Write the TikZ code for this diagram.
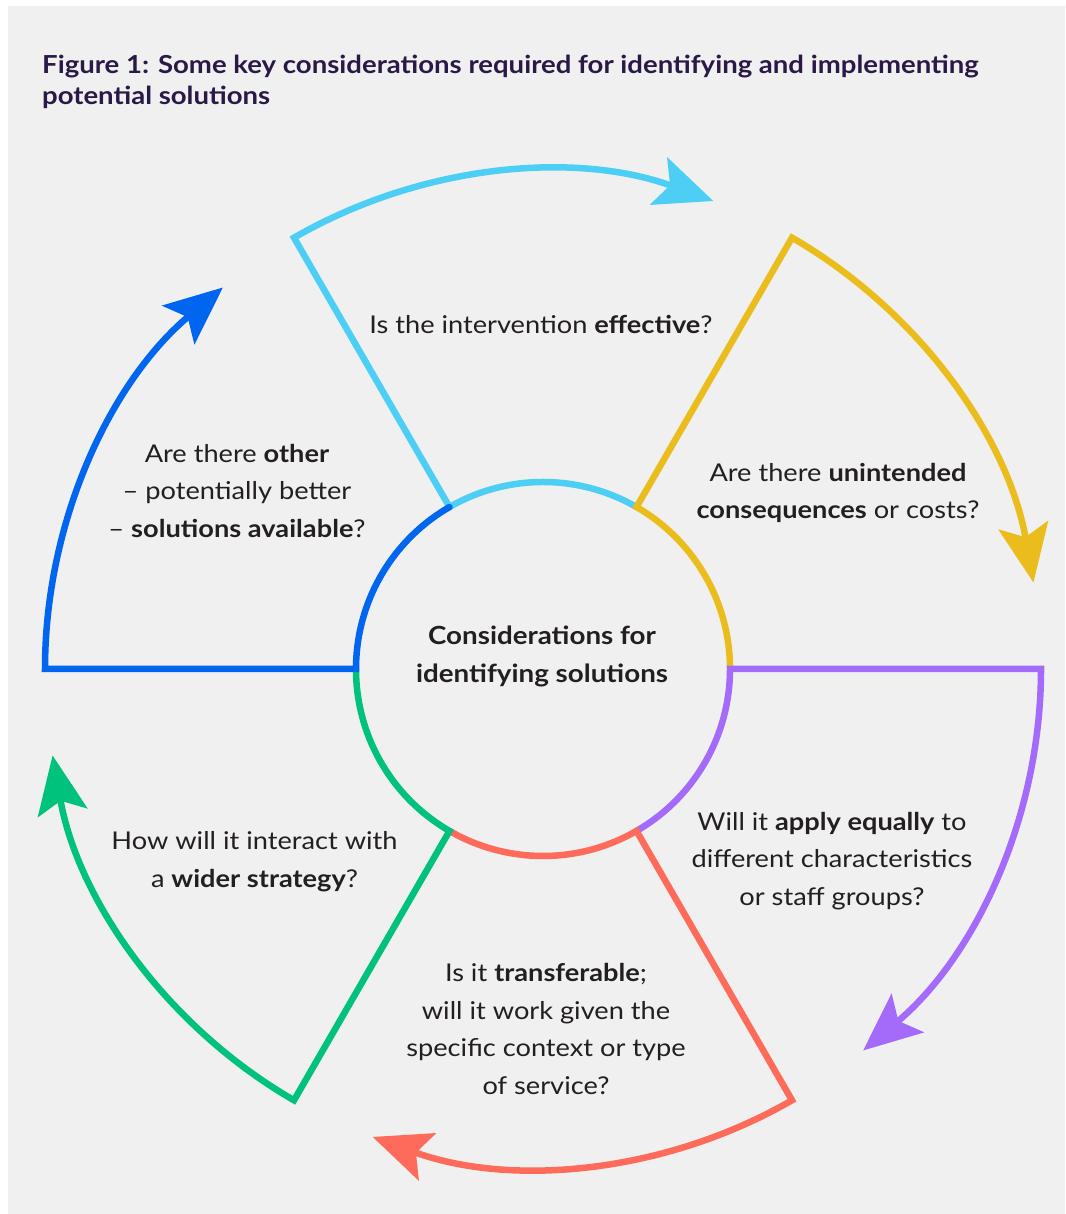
\documentclass[tikz,border=0pt]{standalone}
\usepackage{fontspec}
\setmainfont{Lato}[FakeStretch=1.11]
\usetikzlibrary{arrows.meta}
\definecolor{bgc}{HTML}{EFF0EF}
\definecolor{txtc}{HTML}{231F20}
\definecolor{titlec}{HTML}{2A1846}
\definecolor{cyanc}{HTML}{4DCFF5}
\definecolor{yellowc}{HTML}{EABD1C}
\definecolor{purplec}{HTML}{A46BFB}
\definecolor{redc}{HTML}{FF6B5B}
\definecolor{greenc}{HTML}{00C27C}
\definecolor{bluec}{HTML}{0066F0}
\begin{document}
\begin{tikzpicture}[x=1pt,y=1pt,
  seg/.style={draw=#1, line width=6.5pt, line join=miter, line cap=round,
    -{Stealth[length=58pt,width=50pt,inset=12pt]}},
  txt/.style={align=center, text=txtc, font=\fontsize{24.5}{37.5}\selectfont, inner sep=0pt},
  ttl/.style={align=left, text=titlec, font=\fontsize{24.8}{31}\selectfont\bfseries, inner sep=0pt}]
\useasboundingbox (0,0) rectangle (1065,1214);
\fill[white] (0,0) rectangle (1065,1214);
\fill[bgc] (8,0) rectangle (1065,1208);
\coordinate (C) at (543,545);
\begin{scope}[shift={(C)}]
  \draw[seg=cyanc] (60:187) arc[start angle=60,end angle=120,radius=187] -- (120:498) arc[start angle=120,end angle=70,radius=498];
  \draw[seg=yellowc] (0:187) arc[start angle=0,end angle=60,radius=187] -- (60:498) arc[start angle=60,end angle=10,radius=498];
  \draw[seg=purplec] (-60:187) arc[start angle=-60,end angle=0,radius=187] -- (0:498) arc[start angle=0,end angle=-50,radius=498];
  \draw[seg=redc] (-120:187) arc[start angle=-120,end angle=-60,radius=187] -- (-60:498) arc[start angle=-60,end angle=-110,radius=498];
  \draw[seg=greenc] (180:187) arc[start angle=180,end angle=240,radius=187] -- (240:498) arc[start angle=240,end angle=190,radius=498];
  \draw[seg=bluec] (120:187) arc[start angle=120,end angle=180,radius=187] -- (180:498) arc[start angle=180,end angle=130,radius=498];
\end{scope}
\node[ttl, anchor=base west] (title) at (42,1109) {Figure 1: Some key considerations required for identifying and implementing\\potential solutions};
\node[txt, font=\fontsize{25}{37.5}\selectfont\bfseries] (centre) at (542,557.5) {Considerations for\\identifying solutions};
\node[txt] (q1) at (541,889) {Is the intervention \textbf{effective}?};
\node[txt] (q2) at (838,721) {Are there \textbf{unintended}\\\textbf{consequences} or costs?};
\node[txt] (q3) at (832,353) {Will it \textbf{apply equally} to\\different characteristics\\or staff groups?};
\node[txt] (q4) at (546,185) {Is it \textbf{transferable};\\will it work given the\\specific context or type\\of service?};
\node[txt] (q5) at (254.5,352.5) {How will it interact with\\a \textbf{wider strategy}?};
\node[txt] (q6) at (237,723.3) {Are there \textbf{other}\\– potentially better\\– \textbf{solutions available}?};
\end{tikzpicture}
\end{document}
